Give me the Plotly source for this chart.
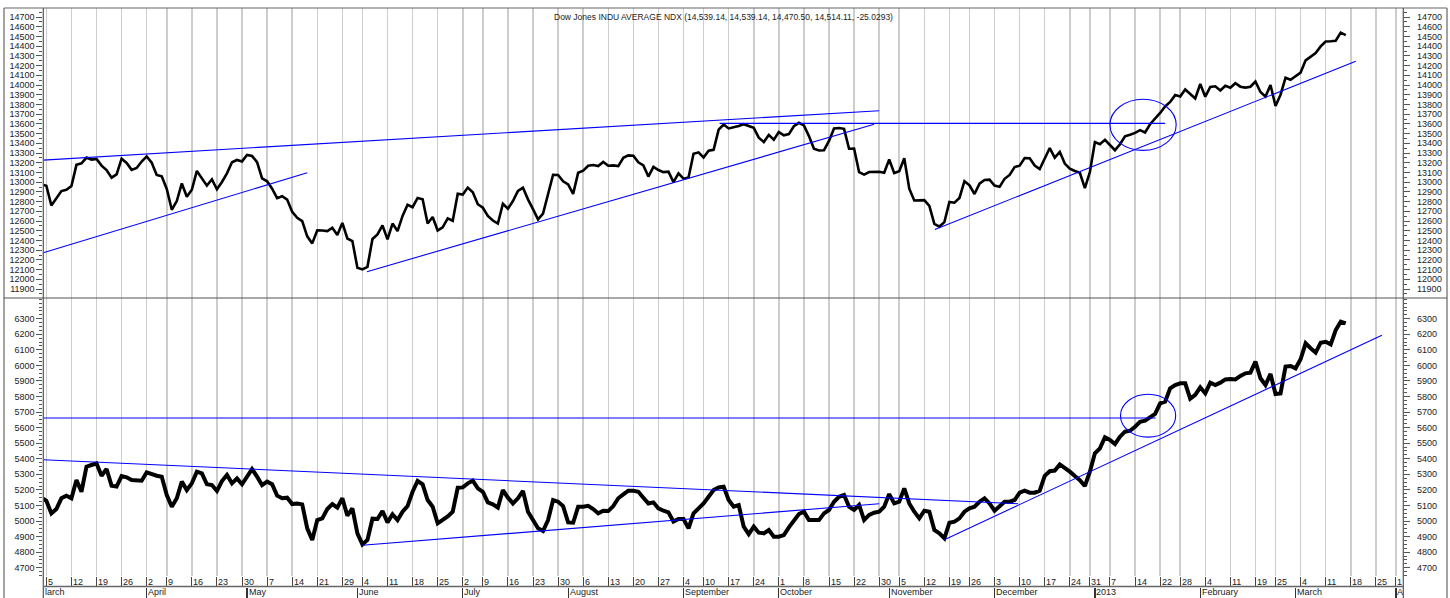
import numpy as np
import pandas as pd
import plotly.graph_objects as go

# ---------------- data ----------------
start_date = "2012-03-02"
end_axis_date = "2013-04-01"
holidays = ["2012-04-06", "2012-05-28", "2012-07-04", "2012-09-03", "2012-10-29",
            "2012-11-22", "2012-12-25", "2013-01-01", "2013-01-21", "2013-02-18",
            "2013-03-29"]

dow_close = [
    12977.57,
    12962.81, 12759.15, 12837.33, 12907.94, 12922.02, 12959.71, 13177.68, 13194.10, 13252.76, 13232.62,
    13239.13, 13170.19, 13124.62, 13046.14, 13080.73, 13241.63, 13197.73, 13126.21, 13145.82, 13212.04,
    13264.49, 13199.55, 13074.75, 13060.14, 12929.59, 12715.93, 12805.39, 12986.58, 12849.59, 12921.41,
    13115.54, 13032.75, 12964.10, 13029.26, 12927.17, 13001.56, 13090.72, 13204.62, 13228.31, 13213.63,
    13279.32, 13268.57, 13206.59, 13038.27, 13008.53, 12932.09, 12835.06, 12855.04, 12820.60, 12695.35,
    12632.00, 12598.55, 12442.49, 12369.38, 12504.48, 12502.81, 12496.15, 12529.75, 12454.83, 12580.69,
    12419.86, 12393.45, 12118.57, 12101.46, 12127.95, 12414.79, 12460.96, 12554.20, 12411.23, 12573.80,
    12496.38, 12651.91, 12767.17, 12741.82, 12837.33, 12824.39, 12573.57, 12640.78, 12502.66, 12534.67,
    12627.01, 12602.26, 12880.09, 12871.39, 12943.82, 12896.67, 12772.47, 12736.29, 12653.12, 12604.53,
    12573.27, 12777.09, 12727.21, 12805.54, 12908.70, 12943.36, 12822.57, 12721.46, 12617.32, 12676.05,
    12887.93, 13075.66, 13073.01, 13008.68, 12976.13, 12878.88, 13096.17, 13117.51, 13168.60, 13175.64,
    13165.19, 13207.95, 13169.43, 13172.14, 13164.78, 13250.11, 13275.20, 13271.64, 13203.58, 13172.76,
    13057.46, 13157.97, 13124.67, 13102.99, 13107.48, 13000.71, 13090.84, 13035.94, 13047.48, 13292.00,
    13306.64, 13254.29, 13323.36, 13333.35, 13539.86, 13593.37, 13553.10, 13564.64, 13577.96, 13596.93,
    13579.47, 13558.92, 13457.55, 13413.51, 13485.97, 13437.13, 13515.11, 13482.36, 13494.61, 13575.36,
    13610.15, 13583.65, 13473.53, 13344.97, 13326.39, 13328.85, 13424.23, 13551.78, 13557.00, 13548.94,
    13343.51, 13345.89, 13102.53, 13077.34, 13103.68, 13107.21, 13107.21, 13096.46, 13232.62, 13093.16,
    13112.44, 13245.68, 12932.73, 12811.32, 12815.39, 12815.08, 12756.18, 12570.95, 12542.38, 12588.31,
    12795.96, 12788.51, 12836.89, 13009.68, 12967.37, 12878.13, 12985.11, 13021.82, 13025.58, 12965.60,
    12951.78, 13034.49, 13074.04, 13155.13, 13169.88, 13248.44, 13245.45, 13170.72, 13135.01, 13235.39,
    13350.96, 13251.97, 13311.72, 13190.84, 13139.08, 13114.59, 13096.31, 12938.11, 13104.14, 13412.55,
    13391.36, 13435.21, 13384.29, 13328.85, 13390.51, 13471.22, 13488.43, 13507.32, 13534.89, 13511.23,
    13596.02, 13649.70, 13712.21, 13779.33, 13825.33, 13895.98, 13881.93, 13954.42, 13910.42, 13860.58,
    14009.79, 13880.08, 13979.30, 13986.52, 13944.05, 13992.97, 13971.24, 14018.70, 13982.91, 13973.39,
    13981.76, 14035.67, 13927.54, 13880.62, 14000.57, 13784.17, 13900.13, 14075.37, 14054.49, 14089.66,
    14127.82, 14253.77, 14296.24, 14329.49, 14397.07, 14447.29, 14450.06, 14455.28, 14539.14, 14514.11,
]

transport_close = [
    5150,
    5130, 5049, 5077, 5146, 5163, 5146, 5263, 5188, 5349, 5360,
    5370, 5291, 5334, 5227, 5221, 5289, 5281, 5263, 5258, 5259,
    5313, 5300, 5291, 5285, 5167, 5092, 5146, 5253, 5199, 5242,
    5317, 5306, 5236, 5231, 5193, 5257, 5296, 5242, 5274, 5236,
    5291, 5334, 5285, 5231, 5253, 5236, 5163, 5146, 5150, 5109,
    5113, 5107, 4953, 4878, 5006, 5017, 5077, 5109, 5086, 5146,
    5034, 5081, 4921, 4850, 4878, 5015, 5013, 5064, 4991, 5043,
    5006, 5060, 5096, 5188, 5257, 5236, 5135, 5092, 4985, 5006,
    5030, 5060, 5214, 5216, 5242, 5259, 5210, 5188, 5120, 5107,
    5086, 5199, 5150, 5113, 5146, 5193, 5060, 5006, 4953, 4936,
    5006, 5135, 5124, 5096, 4991, 4989, 5092, 5092, 5098, 5077,
    5049, 5066, 5064, 5096, 5146, 5171, 5195, 5195, 5188, 5150,
    5113, 5120, 5081, 5066, 5056, 4996, 5013, 5013, 4953, 5049,
    5081, 5113, 5156, 5199, 5216, 5221, 5135, 5092, 5103, 4964,
    4916, 4964, 4925, 4921, 4942, 4899, 4899, 4910, 4959, 5006,
    5045, 5060, 5006, 5006, 5006, 5049, 5071, 5124, 5156, 5167,
    5092, 5071, 5103, 5006, 5039, 5053, 5060, 5092, 5173, 5113,
    5124, 5210, 5113, 5060, 5017, 5066, 5060, 4942, 4921, 4889,
    4989, 4996, 5017, 5060, 5081, 5092, 5124, 5146, 5113, 5066,
    5092, 5124, 5124, 5135, 5182, 5195, 5182, 5182, 5195, 5290,
    5320, 5324, 5364, 5343, 5317, 5289, 5263, 5225, 5317, 5435,
    5467, 5538, 5521, 5495, 5542, 5574, 5580, 5606, 5638, 5645,
    5670, 5688, 5756, 5767, 5853, 5874, 5885, 5885, 5786, 5810,
    5859, 5820, 5889, 5874, 5889, 5910, 5913, 5910, 5932, 5949,
    5953, 6024, 5917, 5874, 5945, 5816, 5820, 5992, 5996, 5981,
    6039, 6142, 6110, 6082, 6146, 6152, 6135, 6227, 6281, 6270,
]

# trend lines: (trading-day index, value) pairs
top_lines = [
    [(0.39, 13227), (167.0, 13735)],
    [(0.39, 12273), (53.0, 13097)],
    [(64.9, 12078), (166.0, 13595)],
    [(135.2, 13605), (224.0, 13605)],
    [(178.1, 12513), (262.0, 14244)],
]
bottom_lines = [
    [(0.39, 5662), (222.1, 5662)],
    [(0.39, 5394), (194.7, 5111)],
    [(64.0, 4844), (167.0, 5111)],
    [(180.0, 4880), (267.2, 6193)],
]
top_ellipse = (213.0, 226.2, 13327, 13853)
bottom_ellipse = (215.1, 226.1, 5539, 5815)

title_text = "Dow Jones INDU AVERAGE NDX (14,539.14, 14,539.14, 14,470.50, 14,514.11, -25.0293)"
top_ticks = list(range(11900, 14701, 100))
bottom_ticks = list(range(4700, 6301, 100))
month_names = {3: "March", 4: "April", 5: "May", 6: "June", 7: "July", 8: "August",
               9: "September", 10: "October", 11: "November", 12: "December",
               1: "2013", 2: "February"}

# ---------------- calendar ----------------
days = pd.bdate_range(start_date, end_axis_date)
days = days[~days.isin(pd.to_datetime(holidays))]
k_all = np.arange(len(days))
k_data = k_all[:len(dow_close)]

K_LEFT, K_RIGHT = 0.392, 271.47

week_k, week_lbl = [], []
prev_week = None
for k, d in zip(k_all, days):
    wk = (d - pd.Timedelta(days=d.weekday()))
    if wk != prev_week:
        if K_LEFT <= k <= K_RIGHT:
            week_k.append(int(k))
            week_lbl.append(str(d.day))
        prev_week = wk
month_k, month_lbl = [], []
prev_m = None
for k, d in zip(k_all, days):
    if d.month != prev_m:
        if K_LEFT <= k <= K_RIGHT:
            month_k.append(int(k))
            if d.year == 2013 and d.month == 4:
                month_lbl.append("A")
            else:
                month_lbl.append(month_names[d.month])
        prev_m = d.month

# ---------------- geometry helpers ----------------
W, H = 1450, 598
def px(x):
    return x / W
def py(y):
    return 1 - y / H

XL, XR = 43.3, 1403.3
TOP_Y0, TOP_Y1 = 8, 298
BOT_Y0, BOT_Y1 = 298, 576
FONT = "Liberation Sans, Arial, sans-serif"
TXT = "#222222"
GRID = "#cdcdcd"
AX = "#555555"

fig = go.Figure()

fig.add_trace(go.Scatter(x=k_data, y=dow_close, mode="lines",
                         line=dict(color="black", width=2.6), xaxis="x2", yaxis="y2",
                         hoverinfo="skip", showlegend=False))
fig.add_trace(go.Scatter(x=k_data, y=transport_close, mode="lines",
                         line=dict(color="black", width=4), xaxis="x", yaxis="y",
                         hoverinfo="skip", showlegend=False))

for seg in top_lines:
    fig.add_trace(go.Scatter(x=[p[0] for p in seg], y=[p[1] for p in seg], mode="lines",
                             line=dict(color="#0000ff", width=1.1), xaxis="x2", yaxis="y2",
                             hoverinfo="skip", showlegend=False))
for seg in bottom_lines:
    fig.add_trace(go.Scatter(x=[p[0] for p in seg], y=[p[1] for p in seg], mode="lines",
                             line=dict(color="#0000ff", width=1.1), xaxis="x", yaxis="y",
                             hoverinfo="skip", showlegend=False))

# dummy traces so the extra axes get drawn
fig.add_trace(go.Scatter(x=[None], y=[None], xaxis="x3", yaxis="y", showlegend=False, hoverinfo="skip"))
fig.add_trace(go.Scatter(x=[None], y=[None], xaxis="x", yaxis="y3", showlegend=False, hoverinfo="skip"))
fig.add_trace(go.Scatter(x=[None], y=[None], xaxis="x2", yaxis="y4", showlegend=False, hoverinfo="skip"))

xdom = [px(XL), px(XR)]
tickfont = dict(family=FONT, size=9, color=TXT)

yaxis_common = dict(showgrid=False, zeroline=False, showline=False, ticks="outside",
                    ticklen=6, tickwidth=1, tickcolor=AX, tickfont=tickfont,
                    tickformat="d", fixedrange=True)

fig.update_layout(
    width=W, height=H,
    margin=dict(l=0, r=0, t=0, b=0),
    paper_bgcolor="white", plot_bgcolor="white",
    showlegend=False,
    hovermode=False,
    xaxis=dict(domain=xdom, anchor="y", range=[K_LEFT, K_RIGHT], tickmode="array",
               tickvals=week_k, showticklabels=False, ticks="outside", ticklen=10,
               tickcolor="#444444", tickwidth=1, showgrid=True, gridcolor=GRID, gridwidth=1.5,
               zeroline=False, showline=False, fixedrange=True),
    xaxis2=dict(domain=xdom, anchor="y2", range=[K_LEFT, K_RIGHT], tickmode="array",
                tickvals=week_k, showticklabels=False, ticks="", showgrid=True,
                gridcolor=GRID, gridwidth=1.5, zeroline=False, showline=False, fixedrange=True),
    xaxis3=dict(overlaying="x", anchor="free", position=py(586.5), range=[K_LEFT, K_RIGHT],
                tickmode="array", tickvals=month_k, showticklabels=False, ticks="outside",
                ticklen=12, tickcolor="#333333", tickwidth=1.2, showgrid=False,
                zeroline=False, showline=False, fixedrange=True),
    yaxis=dict(domain=[py(BOT_Y1), py(BOT_Y0)], anchor="x", range=[4646.7, 6433],
               tickmode="array", tickvals=bottom_ticks,
               minor=dict(dtick=25, ticklen=3, tickcolor=AX, ticks="outside"),
               **yaxis_common),
    yaxis3=dict(overlaying="y", side="right", anchor="x", range=[4646.7, 6433],
                tickmode="array", tickvals=bottom_ticks, ticklabelstandoff=5,
                minor=dict(dtick=25, ticklen=3, tickcolor=AX, ticks="outside"),
                **yaxis_common),
    yaxis2=dict(domain=[py(TOP_Y1), py(TOP_Y0)], anchor="x2", range=[11807.3, 14792.7],
                tickmode="array", tickvals=top_ticks,
                minor=dict(dtick=50, ticklen=3, tickcolor=AX, ticks="outside"),
                **yaxis_common),
    yaxis4=dict(overlaying="y2", side="right", anchor="x2", range=[11807.3, 14792.7],
                tickmode="array", tickvals=top_ticks, ticklabelstandoff=5,
                minor=dict(dtick=50, ticklen=3, tickcolor=AX, ticks="outside"),
                **yaxis_common),
)

shapes = []
def line_px(x0, y0, x1, y1, color=AX, width=1):
    shapes.append(dict(type="line", xref="paper", yref="paper",
                       x0=px(x0), y0=py(y0), x1=px(x1), y1=py(y1),
                       line=dict(color=color, width=width), layer="above"))

# frame and separators
line_px(4, 8, 1447, 8, "#666666", 1.2)
line_px(4, 8, 4, 598, "#666666", 1.2)
line_px(1447, 8, 1447, 598, "#666666", 1.2)
line_px(4, 298, 1447, 298, "#555555", 1.2)
line_px(XL, 8, XL, 598, "#555555", 1.2)
line_px(XR, 8, XR, 598, "#555555", 1.2)
line_px(XL, 586.5, XR, 586.5, "#666666", 1.5)

# ellipses
x0, x1, y0, y1 = top_ellipse
shapes.append(dict(type="circle", xref="x2", yref="y2", x0=x0, x1=x1, y0=y0, y1=y1,
                   line=dict(color="#0000ff", width=1.1)))
x0, x1, y0, y1 = bottom_ellipse
shapes.append(dict(type="circle", xref="x", yref="y", x0=x0, x1=x1, y0=y0, y1=y1,
                   line=dict(color="#0000ff", width=1.1)))

annotations = []
annotations.append(dict(text=title_text, xref="paper", yref="paper", x=px(723.5), y=py(16.5),
                        xanchor="center", yanchor="middle", showarrow=False, borderpad=0,
                        font=dict(family=FONT, size=8.5, color=TXT)))
for k, lbl in zip(week_k, week_lbl):
    annotations.append(dict(text=lbl, xref="x", yref="paper", x=k, y=py(581.5),
                            xanchor="left", yanchor="middle", xshift=0.5, showarrow=False,
                            borderpad=0, font=dict(family=FONT, size=9, color=TXT)))
annotations.append(dict(text="larch", xref="paper", yref="paper", x=px(43.5), y=py(592),
                        xanchor="left", yanchor="middle", showarrow=False, borderpad=0,
                        font=dict(family=FONT, size=9, color=TXT)))
for k, lbl in zip(month_k, month_lbl):
    annotations.append(dict(text=lbl, xref="x", yref="paper", x=k, y=py(592),
                            xanchor="left", yanchor="middle", xshift=0.5, showarrow=False,
                            borderpad=0, font=dict(family=FONT, size=9, color=TXT)))

fig.update_layout(shapes=shapes, annotations=annotations)
fig.write_html("out.html",
               config={"displayModeBar": False, "staticPlot": True},
               post_script="document.body.style.margin='0';document.body.style.overflow='hidden';")
